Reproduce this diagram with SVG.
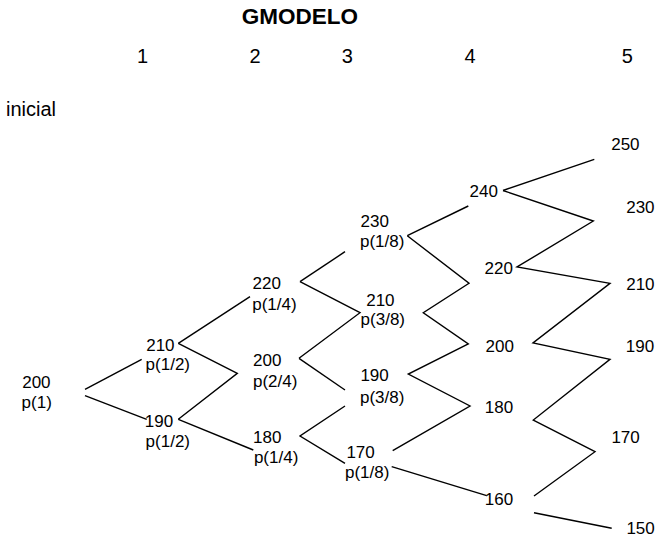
<svg xmlns="http://www.w3.org/2000/svg" width="661" height="547" viewBox="0 0 661 547">
<style>
text{font-family:"Liberation Sans",Arial,sans-serif;fill:#000}
.t{font-size:22.5px;font-weight:bold}
.h{font-size:20px}
.n{font-size:17px}
.c{fill:none;stroke:#000;stroke-width:1.4;stroke-linejoin:miter}
</style>
<rect width="661" height="547" fill="#fff"/>
<g id="header">
<text class="t" x="241.7" y="24">GMODELO</text>
<text class="h" x="137" y="62.7">1</text>
<text class="h" x="249.4" y="62.7">2</text>
<text class="h" x="341.8" y="62.7">3</text>
<text class="h" x="464.5" y="62.7">4</text>
<text class="h" x="621.8" y="62.7">5</text>
<text class="h" x="6" y="115.7">inicial</text>
</g>
<g id="connectors">
<polyline class="c" points="85,389.3 141.7,359.3"/>
<polyline class="c" points="85,395.7 146.7,419.3"/>
<polyline class="c" points="178.3,343.3 250,296.7"/>
<polyline class="c" points="178.3,343.3 237.3,373.3 178.3,419.3"/>
<polyline class="c" points="178.3,419.3 253.3,450"/>
<polyline class="c" points="300,281.7 345,251.7"/>
<polyline class="c" points="300,281.7 360,312.7 299,358.3"/>
<polyline class="c" points="299,358.3 345,390"/>
<polyline class="c" points="345,406 300,436 345,463.3"/>
<polyline class="c" points="407.3,235.7 468.3,206"/>
<polyline class="c" points="407.3,235.7 469,283.3 423.3,312.7 468.3,344 408.3,374 470,406 392.7,450.7"/>
<polyline class="c" points="391.7,466.7 486.7,495.7"/>
<polyline class="c" points="503,190.5 594.3,159.3"/>
<polyline class="c" points="503,190.5 593.3,221 517,267 610,283.3 533,343 610,359.3 533.3,420 595,451.7 534,496"/>
<polyline class="c" points="534,512.7 611.7,528.3"/>
</g>
<g id="n0"><text class="n" x="22.2" y="388">200</text><text class="n" x="21.6" y="408">p(1)</text></g>
<g id="n1a"><text class="n" x="146.2" y="350.5">210</text><text class="n" x="145.6" y="370">p(1/2)</text></g>
<g id="n1b"><text class="n" x="144.8" y="426.5">190</text><text class="n" x="145.6" y="447">p(1/2)</text></g>
<g id="n2a"><text class="n" x="252.5" y="289.3">220</text><text class="n" x="252.2" y="309.5">p(1/4)</text></g>
<g id="n2b"><text class="n" x="253" y="365.7">200</text><text class="n" x="253" y="387">p(2/4)</text></g>
<g id="n2c"><text class="n" x="253.1" y="442.5">180</text><text class="n" x="253.9" y="463.3">p(1/4)</text></g>
<g id="n3a"><text class="n" x="360.5" y="227.3">230</text><text class="n" x="360" y="247.3">p(1/8)</text></g>
<g id="n3b"><text class="n" x="366.2" y="305.5">210</text><text class="n" x="360.6" y="325">p(3/8)</text></g>
<g id="n3c"><text class="n" x="360.4" y="381">190</text><text class="n" x="360" y="403.3">p(3/8)</text></g>
<g id="n3d"><text class="n" x="346.4" y="458.3">170</text><text class="n" x="345" y="478.3">p(1/8)</text></g>
<g id="n4a"><text class="n" x="469.5" y="197.3">240</text></g>
<g id="n4b"><text class="n" x="484.5" y="274">220</text></g>
<g id="n4c"><text class="n" x="485.5" y="351.7">200</text></g>
<g id="n4d"><text class="n" x="484.8" y="413.3">180</text></g>
<g id="n4e"><text class="n" x="484.8" y="505">160</text></g>
<g id="n5a"><text class="n" x="611.2" y="150">250</text></g>
<g id="n5b"><text class="n" x="626.2" y="213.3">230</text></g>
<g id="n5c"><text class="n" x="626.2" y="290">210</text></g>
<g id="n5d"><text class="n" x="625.8" y="351.7">190</text></g>
<g id="n5e"><text class="n" x="611.4" y="443.3">170</text></g>
<g id="n5f"><text class="n" x="626.4" y="534">150</text></g>
</svg>
